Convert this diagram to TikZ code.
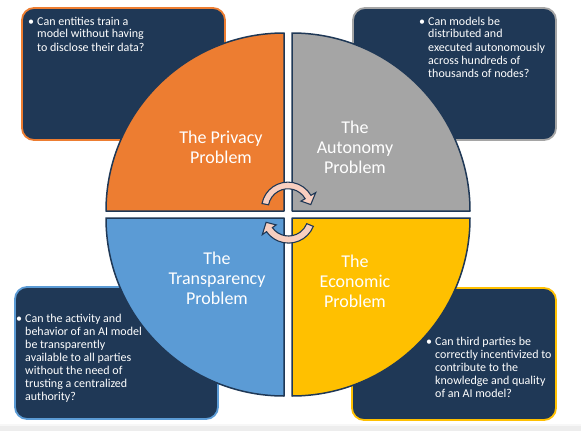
\documentclass[tikz,border=0pt]{standalone}
\usepackage{fontspec}
\usetikzlibrary{calc}
\setmainfont{Carlito}
\definecolor{navy}{HTML}{1F3856}
\definecolor{qorange}{HTML}{ED7D31}
\definecolor{qgray}{HTML}{A5A5A5}
\definecolor{qblue}{HTML}{5B9BD5}
\definecolor{qyellow}{HTML}{FFC000}
\definecolor{arrowpink}{HTML}{F8CFC0}
\definecolor{bandgray}{HTML}{EDEDED}
\newcommand\qbul{\makebox[9pt][l]{•}}
\begin{document}
\begin{tikzpicture}[x=1pt,y=1pt,yscale=-1,
  qbox/.style={fill=navy, line width=1.8pt, rounded corners=12pt},
  quad/.style={draw=navy, line width=1.5pt, line join=round},
  body/.style={text=white, font=\fontsize{12}{13}\selectfont, inner sep=0pt, anchor=base west},
  qtitle/.style={text=white, font=\fontsize{18}{20}\selectfont, inner sep=0pt, anchor=base},
  cyc/.style={fill=arrowpink, draw=navy, line width=1.1pt}]
\useasboundingbox (0,0) rectangle (581,431);
\fill[white] (0,0) rectangle (581,431);
\fill[black!3] (0,424) rectangle (581,431);
\fill[bandgray] (0,426) rectangle (581,431);

% question boxes
\draw[qbox, draw=qorange] (22,8) rectangle (225,140);
\draw[qbox, draw=qgray] (353,8) rectangle (556,140);
\draw[qbox, draw=qblue] (15,287) rectangle (218,419);
\draw[qbox, draw=qyellow] (352,288) rectangle (556,420);

% quadrants
\draw[quad, fill=qorange] (284,211) -- (106,211) arc[start angle=180, end angle=270, radius=178] -- cycle;
\draw[quad, fill=qgray] (292,211) -- (292,33) arc[start angle=270, end angle=360, radius=178] -- cycle;
\draw[quad, fill=qblue] (284,218) -- (284,396) arc[start angle=90, end angle=180, radius=178] -- cycle;
\draw[quad, fill=qyellow] (292,218) -- (470,218) arc[start angle=0, end angle=90, radius=178] -- cycle;

% titles
\node[qtitle] (privacy) at (221,143) {\begin{tabular}[t]{@{}c@{}}The Privacy\\Problem\end{tabular}};
\node[qtitle] (autonomy) at (355,133) {\begin{tabular}[t]{@{}c@{}}The\\Autonomy\\Problem\end{tabular}};
\node[qtitle] (transparency) at (217,264) {\begin{tabular}[t]{@{}c@{}}The\\Transparency\\Problem\end{tabular}};
\node[qtitle] (economic) at (355,267) {\begin{tabular}[t]{@{}c@{}}The\\Economic\\Problem\end{tabular}};

% questions
\node[body] (qprivacy) at (28,25) {\begin{tabular}[t]{@{}l@{}l@{}}\qbul&Can entities train a\\&model without having\\&to disclose their data?\end{tabular}};
\node[body] (qautonomy) at (419,25) {\begin{tabular}[t]{@{}l@{}l@{}}\qbul&Can models be\\&distributed and\\&executed autonomously\\&across hundreds of\\&thousands of nodes?\end{tabular}};
\node[body] (qtransparency) at (16,322) {\begin{tabular}[t]{@{}l@{}l@{}}\qbul&Can the activity and\\&behavior of an AI model\\&be transparently\\&available to all parties\\&without the need of\\&trusting a centralized\\&authority?\end{tabular}};
\node[body] (qeconomic) at (426,345) {\begin{tabular}[t]{@{}l@{}l@{}}\qbul&Can third parties be\\&correctly incentivized to\\&contribute to the\\&knowledge and quality\\&of an AI model?\end{tabular}};

% cycle arrows
\coordinate (uc) at (288,208.6);
\coordinate (lc) at (288.5,216.3);
\draw[cyc] ($(uc)+(191:26.5)$) arc[start angle=191, end angle=330, radius=26.5]
  -- ($(uc)+(330:32)$) -- ($(uc)+(350:23.1)$) -- ($(uc)+(330:15)$)
  -- ($(uc)+(330:19.8)$) arc[start angle=330, end angle=191, radius=19.8] -- cycle;
\draw[cyc] ($(lc)+(22:26.8)$) arc[start angle=22, end angle=145, radius=26.8]
  -- ($(lc)+(145:32)$) -- ($(lc)+(165:23.2)$) -- ($(lc)+(145:15)$)
  -- ($(lc)+(145:19.7)$) arc[start angle=145, end angle=22, radius=19.7] -- cycle;
\end{tikzpicture}
\end{document}
